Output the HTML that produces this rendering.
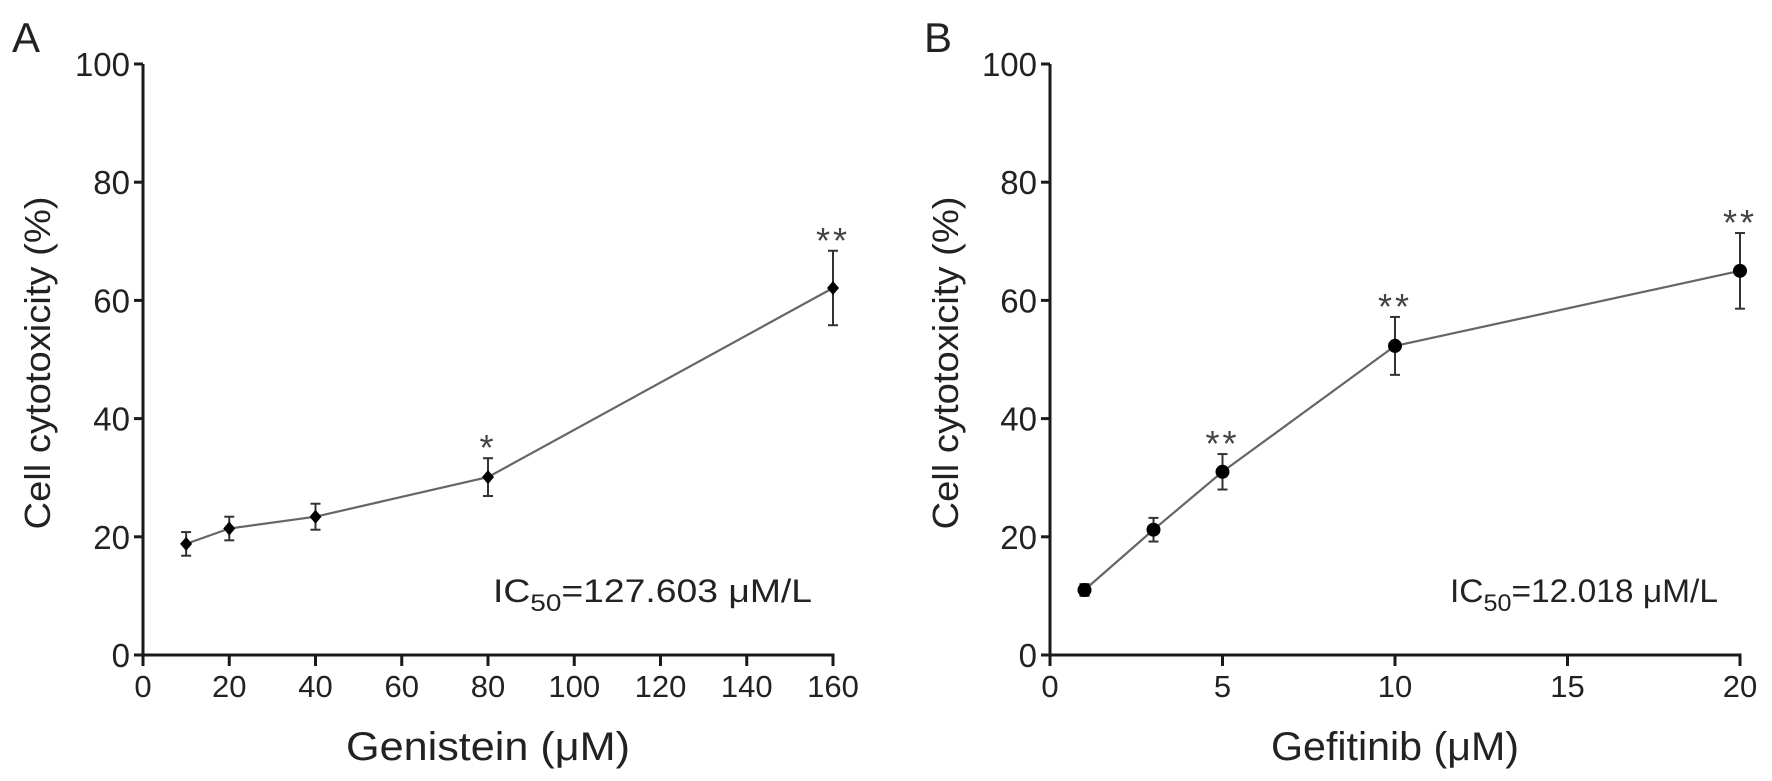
<!DOCTYPE html>
<html><head><meta charset="utf-8">
<style>
html,body{margin:0;padding:0;background:#fff;}
svg{display:block;font-family:"Liberation Sans",Arial,sans-serif;}
</style></head>
<body>
<svg id="chart" width="1772" height="781" viewBox="0 0 1772 781" xmlns="http://www.w3.org/2000/svg"></svg>
<script>
// Panel A data
const aDoses = [10, 20, 40, 80, 160];
const aValues = [18.8, 21.4, 23.4, 30.1, 62.1];
const aErrors = [2.0, 2.0, 2.2, 3.2, 6.3];
const aStars = ["", "", "", "*", "**"];
const aXTicks = [0, 20, 40, 60, 80, 100, 120, 140, 160];
// Panel B data
const bDoses = [1, 3, 5, 10, 20];
const bValues = [11.0, 21.2, 31.0, 52.3, 65.0];
const bErrors = [1.0, 2.0, 3.0, 4.9, 6.4];
const bStars = ["", "", "**", "**", "**"];
const bXTicks = [0, 5, 10, 15, 20];
const yTicks = [0, 20, 40, 60, 80, 100];

const NS = "http://www.w3.org/2000/svg";
const svg = document.getElementById("chart");
function mk(tag, attrs, parent, text) {
  const e = document.createElementNS(NS, tag);
  for (const k in attrs) e.setAttribute(k, attrs[k]);
  if (text !== undefined) e.textContent = text;
  (parent || svg).appendChild(e);
  return e;
}

function panel(cfg) {
  const g = mk("g", {});
  
  
  const x = v => cfg.x0 + (v - cfg.xmin) / (cfg.xmax - cfg.xmin) * (cfg.x1 - cfg.x0);
  const y = v => 655 - v / 100 * (655 - 64);

  const letter = mk("text", {x: cfg.letterX, y: 52, "font-size": 42, fill: "#222"}, g, cfg.letter);
  
  

  const yAxis = mk("line", {x1: cfg.x0, y1: y(100), x2: cfg.x0, y2: y(0) + 9, stroke: "#1a1a1a", "stroke-width": 3}, g);
  
  
  const xAxis = mk("line", {x1: cfg.x0 - 9, y1: y(0), x2: cfg.x1 + 1.5, y2: y(0), stroke: "#1a1a1a", "stroke-width": 3}, g);
  
  

  yTicks.forEach(t => {
    mk("line", {x1: cfg.x0 - 9, y1: y(t), x2: cfg.x0, y2: y(t), stroke: "#1a1a1a", "stroke-width": 3}, g);
    const lbl = mk("text", {x: cfg.x0 - 13, y: y(t) + 12, "font-size": 33, fill: "#222", "text-anchor": "end"}, g, String(t));
    
    
  });
  cfg.xTicks.forEach(t => {
    mk("line", {x1: x(t), y1: y(0), x2: x(t), y2: y(0) + 11, stroke: "#1a1a1a", "stroke-width": 3}, g);
    const lbl = mk("text", {x: x(t), y: 697, "font-size": 31, fill: "#222", "text-anchor": "middle"}, g, String(t));
    
    
  });

  const xt = mk("text", {x: (cfg.x0 + cfg.x1) / 2, y: 760, "font-size": 40, fill: "#222", "text-anchor": "middle", textLength: cfg.xTitleLen, lengthAdjust: "spacingAndGlyphs"}, g, cfg.xTitle);
  
  
  const yt = mk("text", {x: 0, y: 0, "font-size": 36, fill: "#222", "text-anchor": "middle", textLength: 333, lengthAdjust: "spacingAndGlyphs", transform: `translate(${cfg.yTitleX},363) rotate(-90)`}, g, "Cell cytotoxicity (%)");
  
  

  const pts = cfg.doses.map((d, i) => x(d) + "," + y(cfg.values[i])).join(" ");
  const line = mk("polyline", {points: pts, fill: "none", stroke: "#666", "stroke-width": 2.2}, g);
  
  

  cfg.doses.forEach((d, i) => {
    const cx = x(d), cy = y(cfg.values[i]);
    const top = y(cfg.values[i] + cfg.errors[i]), bot = y(cfg.values[i] - cfg.errors[i]);
    const eb = mk("g", {stroke: "#333", "stroke-width": 2}, g);
    
    
    mk("line", {x1: cx, y1: top, x2: cx, y2: bot}, eb);
    mk("line", {x1: cx - 5, y1: top, x2: cx + 5, y2: top}, eb);
    mk("line", {x1: cx - 5, y1: bot, x2: cx + 5, y2: bot}, eb);
    let m;
    if (cfg.marker === "diamond") {
      m = mk("polygon", {points: `${cx},${cy-7} ${cx+6},${cy} ${cx},${cy+7} ${cx-6},${cy}`, fill: "#000"}, g);
    } else {
      m = mk("circle", {cx: cx, cy: cy, r: 7, fill: "#000"}, g);
    }
    
    
    if (cfg.stars[i]) {
      const s = mk("text", {x: cx, y: top + 2, "font-size": 36, fill: "#444", "text-anchor": "middle", "letter-spacing": 3}, g, cfg.stars[i]);
      
      
    }
  });

  const ic = mk("text", {x: cfg.icX, y: 602, "font-size": 32, fill: "#222", textLength: cfg.icLen, lengthAdjust: "spacingAndGlyphs"}, g);
  
  
  mk("tspan", {}, ic, "IC");
  mk("tspan", {dy: 9, "font-size": 24}, ic, "50");
  mk("tspan", {dy: -9}, ic, cfg.icText);
}

panel({name: "panel-a-genistein", letter: "A", letterX: 12, x0: 143, x1: 833, xmin: 0, xmax: 160,
  xTicks: aXTicks, doses: aDoses, values: aValues, errors: aErrors, stars: aStars, marker: "diamond",
  xTitle: "Genistein (μM)", xTitleLen: 284, yTitleX: 50, icX: 493, icLen: 319, icText: "=127.603 μM/L"});
panel({name: "panel-b-gefitinib", letter: "B", letterX: 924, x0: 1050, x1: 1740, xmin: 0, xmax: 20,
  xTicks: bXTicks, doses: bDoses, values: bValues, errors: bErrors, stars: bStars, marker: "circle",
  xTitle: "Gefitinib (μM)", xTitleLen: 248, yTitleX: 958, icX: 1450, icLen: 268, icText: "=12.018 μM/L"});
</script>
</body></html>
